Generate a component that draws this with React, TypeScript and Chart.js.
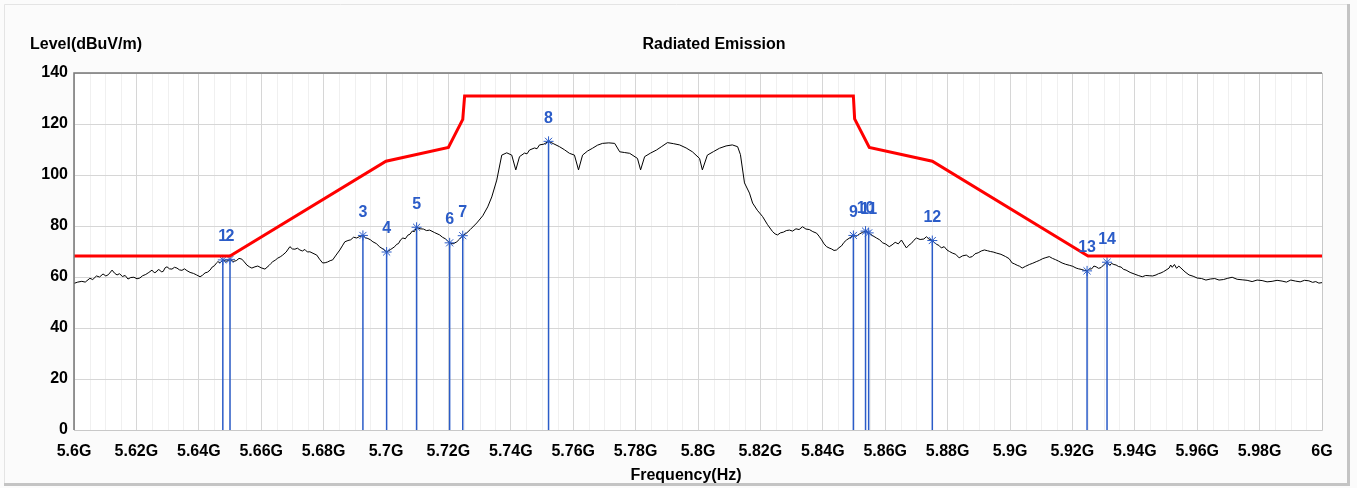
import React, { useEffect, useRef } from "react";
import { Chart, registerables } from "chart.js";

Chart.register(...registerables);

// Measured trace as [frequency MHz, level dBuV/m]
const tracePoints: [number, number][] = [
  [5600, 57.5], [5601.2, 58.0], [5602.5, 58.3], [5603.6, 58.0], [5605.1, 59.5], [5606.0, 59.0], [5607.2, 60.4],
  [5608.2, 60.0], [5609.3, 61.2], [5610.2, 60.4], [5611.0, 60.9], [5612.2, 62.7], [5613.0, 61.5], [5613.8, 60.8],
  [5614.6, 61.3], [5615.5, 60.2], [5616.4, 60.6], [5617.3, 59.2], [5618.2, 59.8], [5619.2, 59.9], [5620.2, 59.3],
  [5621.1, 59.6], [5622.0, 60.5], [5623.0, 61.0], [5624.0, 61.8], [5625.0, 62.7], [5625.7, 61.7], [5626.3, 61.9],
  [5627.0, 62.9], [5627.5, 62.7], [5628.0, 62.0], [5628.6, 62.2], [5629.2, 63.6], [5629.8, 64.0], [5630.6, 63.2],
  [5631.4, 63.1], [5632.2, 63.8], [5633.0, 63.5], [5633.8, 62.8], [5634.6, 62.6], [5635.4, 63.2], [5636.2, 62.5],
  [5637.2, 61.8], [5638.3, 61.4], [5639.3, 60.8], [5640.4, 60.1], [5641.2, 60.7], [5642.0, 61.6], [5642.8, 61.9],
  [5643.6, 62.7], [5644.3, 63.9], [5645.0, 64.4], [5645.6, 65.4], [5646.1, 66.0], [5646.9, 65.6], [5647.7, 66.7],
  [5648.4, 66.3], [5649.0, 66.2], [5650.0, 66.9], [5651.0, 66.1], [5652.0, 66.4], [5652.9, 67.3], [5653.8, 67.0],
  [5654.6, 65.9], [5655.4, 64.7], [5656.2, 64.0], [5657.0, 63.5], [5658.0, 64.0], [5658.9, 64.3], [5660.0, 63.6],
  [5661.2, 63.1], [5662.5, 64.5], [5663.1, 65.3], [5663.7, 66.0], [5664.5, 66.6], [5665.3, 67.4], [5666.1, 67.9],
  [5666.9, 68.6], [5668.0, 69.8], [5669.2, 71.9], [5670.0, 71.0], [5670.8, 70.9], [5671.6, 71.3], [5672.4, 70.6],
  [5673.2, 70.2], [5674.0, 70.8], [5674.8, 69.8], [5675.6, 69.9], [5676.6, 69.3], [5677.8, 68.6], [5678.7, 67.0],
  [5679.7, 65.5], [5680.5, 65.6], [5681.3, 65.9], [5682.1, 66.4], [5682.9, 66.7], [5684.0, 68.6], [5685.2, 70.6],
  [5686.0, 72.2], [5686.8, 73.8], [5687.8, 74.3], [5688.7, 74.6], [5689.6, 75.6], [5690.6, 75.3], [5691.6, 75.9],
  [5692.6, 76.3], [5693.4, 75.4], [5694.2, 75.1], [5695.0, 74.6], [5695.8, 73.8], [5696.9, 73.1], [5698.0, 71.8],
  [5699.1, 70.9], [5700.2, 69.8], [5701.5, 70.8], [5702.8, 71.9], [5703.4, 72.8], [5704.0, 73.1], [5704.7, 74.6],
  [5705.4, 75.3], [5706.2, 75.0], [5707.0, 76.4], [5707.7, 76.8], [5708.4, 78.0], [5709.1, 77.8], [5709.8, 79.5],
  [5710.9, 78.9], [5712.0, 78.8], [5713.0, 78.2], [5714.0, 78.4], [5715.6, 77.4], [5717.2, 76.5], [5718.1, 75.6],
  [5719.0, 75.0], [5719.7, 74.2], [5720.4, 73.4], [5721.5, 73.0], [5722.7, 73.8], [5723.6, 74.9], [5724.6, 76.2],
  [5725.8, 77.2], [5727.0, 78.6], [5729.1, 81.2], [5731.0, 84.0], [5732.6, 87.5], [5733.9, 91.4], [5735.5, 98.0],
  [5737.1, 107.8], [5738.7, 108.7], [5740.3, 107.8], [5741.6, 102.0], [5742.8, 107.2], [5744.4, 108.6],
  [5745.2, 108.3], [5746.0, 109.8], [5747.6, 110.6], [5748.4, 110.3], [5749.2, 111.8], [5750.6, 112.1],
  [5752.1, 113.2], [5753.8, 112.2], [5755.6, 111.1], [5757.2, 109.9], [5758.8, 108.5], [5760.4, 107.8],
  [5761.7, 102.0], [5763.0, 107.8], [5764.6, 109.4], [5766.2, 110.5], [5767.8, 111.7], [5769.4, 112.4],
  [5771.4, 112.6], [5773.3, 112.4], [5774.9, 109.1], [5776.5, 108.8], [5778.1, 108.5], [5780.6, 106.5],
  [5781.6, 102.0], [5782.9, 107.2], [5784.8, 108.6], [5786.7, 109.8], [5788.4, 111.2], [5790.2, 112.7],
  [5792.1, 112.3], [5794.1, 111.8], [5796.2, 110.6], [5798.2, 109.1], [5800.5, 106.5], [5801.4, 102.0],
  [5803.0, 107.8], [5805.0, 109.2], [5806.9, 110.5], [5809.0, 111.4], [5811.0, 111.8], [5812.7, 111.1],
  [5813.6, 108.0], [5814.9, 96.9], [5816.5, 92.9], [5817.5, 89.0], [5819.0, 86.2], [5820.7, 83.7], [5822.3, 80.5],
  [5823.9, 77.8], [5824.7, 76.9], [5825.5, 76.5], [5826.4, 77.3], [5827.4, 77.6], [5828.3, 78.2], [5829.3, 78.4],
  [5830.3, 78.0], [5831.4, 78.9], [5832.4, 78.6], [5833.5, 79.7], [5834.6, 78.8], [5835.7, 78.6], [5836.8, 77.8],
  [5838.0, 77.2], [5838.8, 76.0], [5839.6, 74.6], [5840.4, 73.0], [5841.2, 71.9], [5842.0, 71.4], [5842.8, 71.0],
  [5843.6, 70.4], [5844.4, 70.6], [5845.2, 71.5], [5846.0, 72.2], [5846.8, 73.6], [5847.6, 74.5], [5848.7, 75.4],
  [5849.8, 76.3], [5850.8, 76.0], [5851.8, 76.9], [5852.7, 77.5], [5853.7, 78.0], [5854.7, 77.3], [5856.0, 76.2],
  [5857.2, 75.3], [5858.2, 74.6], [5859.2, 73.4], [5860.2, 72.9], [5861.3, 71.9], [5862.2, 72.6], [5863.2, 73.6],
  [5864.2, 73.0], [5865.2, 74.5], [5866.0, 72.9], [5866.8, 71.4], [5867.6, 72.5], [5868.4, 73.2], [5869.2, 74.4],
  [5870.0, 75.3], [5871.2, 74.7], [5872.4, 74.9], [5873.2, 75.8], [5874.0, 74.9], [5875.1, 74.3], [5875.8, 73.5],
  [5876.5, 72.8], [5877.2, 72.4], [5878.0, 71.4], [5878.9, 71.9], [5879.8, 70.6], [5880.6, 70.0], [5881.5, 69.4],
  [5882.6, 68.9], [5883.7, 67.5], [5884.8, 68.3], [5886.0, 68.6], [5887.0, 67.7], [5887.9, 68.0], [5888.8, 69.1],
  [5889.8, 69.5], [5890.8, 70.2], [5891.8, 70.6], [5892.8, 70.3], [5893.7, 70.0], [5894.6, 69.8], [5895.6, 69.4],
  [5897.1, 68.9], [5898.6, 68.0], [5899.7, 67.2], [5900.7, 65.5], [5901.5, 65.1], [5902.3, 64.6], [5903.1, 64.2],
  [5903.9, 63.5], [5905.0, 64.2], [5906.2, 64.9], [5907.3, 65.4], [5908.4, 66.0], [5909.4, 66.5], [5910.5, 67.2],
  [5911.5, 67.6], [5912.6, 68.0], [5913.6, 67.3], [5914.6, 66.8], [5915.6, 66.2], [5916.7, 65.5], [5917.8, 65.0],
  [5919.0, 64.6], [5920.1, 64.2], [5921.2, 63.5], [5922.0, 63.2], [5922.8, 63.0], [5923.8, 62.6], [5924.7, 62.4],
  [5925.4, 63.1], [5926.2, 63.2], [5926.9, 64.3], [5927.6, 64.0], [5928.4, 63.4], [5929.2, 63.7], [5930.2, 65.0],
  [5931.1, 65.8], [5931.9, 64.6], [5932.6, 65.3], [5933.3, 64.9], [5934.0, 64.7], [5934.8, 64.1], [5935.6, 63.9],
  [5936.4, 63.0], [5937.2, 62.7], [5938.5, 61.8], [5939.8, 61.2], [5941.1, 60.6], [5942.4, 60.1], [5943.5, 60.6],
  [5944.6, 60.5], [5945.7, 60.4], [5946.8, 60.8], [5947.6, 61.3], [5948.4, 61.6], [5949.2, 62.1], [5950.0, 62.7],
  [5951.0, 63.5], [5951.5, 64.7], [5952.0, 63.8], [5952.7, 64.9], [5953.4, 63.4], [5954.1, 64.3], [5954.8, 63.5],
  [5956.1, 62.0], [5957.4, 60.8], [5958.7, 60.3], [5960.0, 59.6], [5961.4, 59.4], [5962.8, 58.8], [5964.2, 59.2],
  [5965.6, 59.4], [5967.0, 58.8], [5968.4, 59.0], [5969.8, 59.5], [5971.2, 59.9], [5972.8, 59.1], [5974.4, 58.9],
  [5976.0, 58.7], [5977.6, 58.2], [5979.2, 58.8], [5980.8, 58.6], [5982.4, 58.1], [5984.0, 58.3], [5985.6, 58.7],
  [5987.2, 58.4], [5988.6, 58.0], [5990.0, 58.8], [5991.5, 58.4], [5993.0, 58.1], [5994.4, 58.7], [5995.8, 58.5],
  [5997.0, 57.9], [5998.0, 58.2], [5999.0, 57.6], [6000, 57.8],
];

// Limit mask
const limitFreq = [5600, 5650, 5700, 5720, 5724.6, 5725.2, 5849.8, 5850.2, 5854.9, 5875.1, 5925, 6000];
const limitLevel = [68.2, 68.2, 105.4, 110.8, 121.8, 131.0, 131.0, 122.0, 110.8, 105.4, 68.2, 68.2];

// Markers
const markerFreq = [5647.7, 5650.0, 5692.6, 5700.2, 5709.8, 5720.4, 5724.6, 5752.1, 5849.8, 5853.7, 5854.7, 5875.1, 5924.7, 5931.1];
const markerLevel = [66.7, 66.9, 76.3, 69.8, 79.5, 73.4, 76.2, 113.2, 76.3, 78.0, 77.3, 74.3, 62.4, 65.8];
const markerLabels = ["1", "2", "3", "4", "5", "6", "7", "8", "9", "10", "11", "12", "13", "14"];

const xMin = 5600;
const xMax = 6000;
const xStep = 20;
const xMinorStep = 5;
const yMin = 0;
const yMax = 140;
const yStep = 20;

const titleText = "Radiated Emission";
const yTitleText = "Level(dBuV/m)";
const xTitleText = "Frequency(Hz)";

const FONT = "'Liberation Sans', Arial, sans-serif";
const BLUE = "#2b5cc8";

export default function App() {
  const ref = useRef<HTMLCanvasElement | null>(null);

  useEffect(() => {
    document.body.style.margin = "0";
    const canvas = ref.current;
    if (!canvas) return;

    const stems: any[] = [];
    markerFreq.forEach((f, i) => {
      stems.push({ x: f, y: 0 });
      stems.push({ x: f, y: markerLevel[i] });
      stems.push({ x: f, y: null });
    });

    const decor = {
      id: "decor",
      beforeDraw(chart: any) {
        const { ctx, chartArea: a, width, height } = chart;
        ctx.save();
        ctx.fillStyle = "#fbfbfb";
        ctx.fillRect(0, 0, width, height);
        ctx.strokeStyle = "#e4e4e4";
        ctx.lineWidth = 1;
        ctx.beginPath();
        ctx.moveTo(4.5, height - 3);
        ctx.lineTo(4.5, 4.5);
        ctx.lineTo(width - 8, 4.5);
        ctx.stroke();
        ctx.strokeStyle = "#c4c4c4";
        ctx.lineWidth = 3;
        ctx.beginPath();
        ctx.moveTo(width - 8.5, 4);
        ctx.lineTo(width - 8.5, height - 3.5);
        ctx.lineTo(4, height - 3.5);
        ctx.stroke();
        ctx.fillStyle = "#ffffff";
        ctx.fillRect(a.left, a.top, a.right - a.left, a.bottom - a.top);
        const xs = chart.scales.x;
        ctx.strokeStyle = "#f0f0f0";
        ctx.lineWidth = 1;
        for (let v = xMin; v <= xMax; v += xMinorStep) {
          if (v % xStep === 0) continue;
          const px = Math.round(xs.getPixelForValue(v)) + 0.5;
          ctx.beginPath();
          ctx.moveTo(px, a.top);
          ctx.lineTo(px, a.bottom);
          ctx.stroke();
        }
        ctx.restore();
      },
      afterDatasetsDraw(chart: any) {
        const { ctx, chartArea: a, scales } = chart;
        ctx.save();
        ctx.lineWidth = 1.5;
        ctx.strokeStyle = "#777777";
        ctx.beginPath();
        ctx.moveTo(a.left, a.bottom);
        ctx.lineTo(a.left, a.top);
        ctx.lineTo(a.right, a.top);
        ctx.stroke();
        ctx.strokeStyle = "#c8c8c8";
        ctx.lineWidth = 1;
        ctx.beginPath();
        ctx.moveTo(a.right + 0.5, a.top);
        ctx.lineTo(a.right + 0.5, a.bottom + 0.5);
        ctx.lineTo(a.left, a.bottom + 0.5);
        ctx.stroke();
        ctx.fillStyle = BLUE;
        ctx.font = `bold 16px ${FONT}`;
        ctx.textAlign = "center";
        ctx.textBaseline = "middle";
        markerFreq.forEach((f, i) => {
          const px = scales.x.getPixelForValue(f);
          const py = scales.y.getPixelForValue(markerLevel[i]);
          ctx.fillText(markerLabels[i], px, py - 23);
        });
        ctx.restore();
      },
      afterDraw(chart: any) {
        const { ctx } = chart;
        ctx.save();
        ctx.fillStyle = "#000";
        ctx.font = `bold 16px ${FONT}`;
        ctx.textBaseline = "middle";
        ctx.textAlign = "left";
        ctx.fillText(yTitleText, 30, 45);
        ctx.textAlign = "center";
        ctx.fillText(titleText, 714, 45);
        ctx.fillText(xTitleText, 686, 476);
        ctx.restore();
      },
    };

    const chart = new Chart(canvas, {
      type: "line",
      data: {
        datasets: [
          {
            label: "Limit",
            data: limitFreq.map((f, i) => ({ x: f, y: limitLevel[i] })),
            borderColor: "#ff0000",
            borderWidth: 3,
            pointRadius: 0,
            tension: 0,
          },
          {
            label: "Markers",
            data: markerFreq.map((f, i) => ({ x: f, y: markerLevel[i] })),
            showLine: false,
            pointStyle: "star",
            pointRadius: 5,
            borderColor: BLUE,
            backgroundColor: BLUE,
            borderWidth: 1,
          },
          {
            label: "Stems",
            data: stems,
            borderColor: BLUE,
            borderWidth: 1.5,
            pointRadius: 0,
            spanGaps: false,
          },
          {
            label: "Level",
            data: tracePoints.map(([f, v]) => ({ x: f, y: v })),
            borderColor: "#000000",
            borderWidth: 1,
            pointRadius: 0,
            tension: 0,
          },
        ],
      },
      options: {
        animation: false,
        responsive: false,
        maintainAspectRatio: false,
        layout: { padding: { left: 0, right: 35, top: 73, bottom: 0 } },
        plugins: {
          legend: { display: false },
          title: { display: false },
          tooltip: { enabled: false },
        },
        scales: {
          x: {
            type: "linear",
            min: xMin,
            max: xMax,
            afterFit(scale: any) {
              scale.height = 58;
            },
            ticks: {
              stepSize: xStep,
              padding: 12,
              color: "#000",
              maxRotation: 0,
              autoSkip: false,
              font: { family: FONT, size: 16, weight: "bold" },
              callback: (v: any) => `${Number(v) / 1000}G`,
            },
            grid: { color: "#d6d6d6", drawTicks: false, lineWidth: 1 },
            border: { display: false },
          },
          y: {
            min: yMin,
            max: yMax,
            afterFit(scale: any) {
              scale.width = 74;
            },
            ticks: {
              stepSize: yStep,
              padding: 6,
              color: "#000",
              font: { family: FONT, size: 16, weight: "bold" },
            },
            grid: { color: "#d6d6d6", drawTicks: false, lineWidth: 1 },
            border: { display: false },
          },
        },
      },
      plugins: [decor],
    });

    return () => chart.destroy();
  }, []);

  return <canvas ref={ref} width={1357} height={488} style={{ display: "block" }} />;
}
